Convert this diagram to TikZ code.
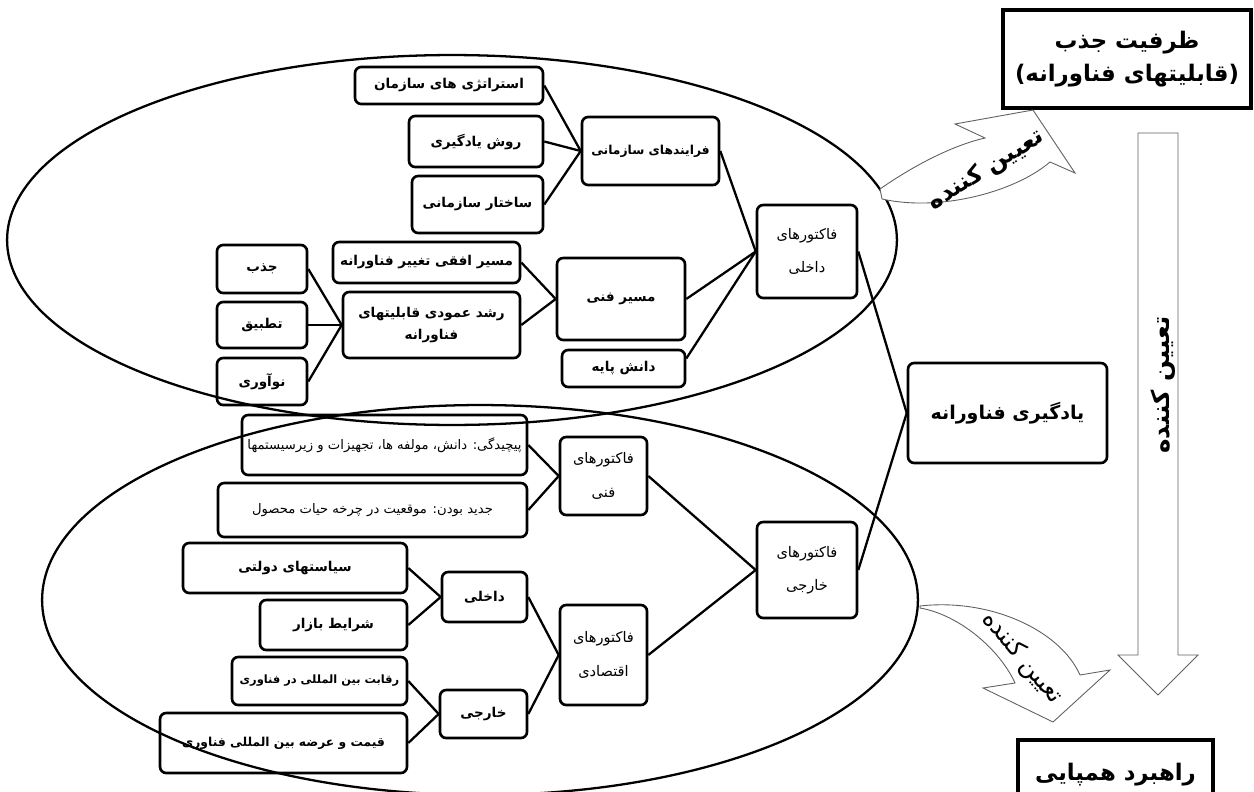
\documentclass[tikz,border=0pt]{standalone}
\usepackage{fontspec}
\TeXXeTstate=1
\newfontfamily\fa[Script=Arabic]{DejaVu Sans}
\newfontfamily\lat{DejaVu Sans}
\newcommand{\RL}[1]{\beginR #1\endR}
\begin{document}
\begin{tikzpicture}[x=0.02cm,y=-0.02cm,
  box/.style={draw, line width=1.5pt, rounded corners=3.5pt, inner sep=0pt, align=center,
    font=\fa\bfseries\fontsize{7.7}{12}\selectfont},
  rbox/.style={box, font=\fa\fontsize{7.5}{12}\selectfont},
  fbox/.style={box, font=\fa\fontsize{8.3}{19}\selectfont},
  link/.style={line width=1.3pt},
  ell/.style={line width=1.3pt},
  blk/.style={draw=gray!75!black, line width=0.5pt, fill=white},
  head/.style={draw, line width=1.8pt, inner sep=0pt, align=center,
    font=\fa\bfseries\fontsize{13}{22}\selectfont}]
\clip (0,0) rectangle (1254,791);
% top group
\node[box, minimum width=3.76cm, minimum height=0.74cm] (strat) at (449,85.5) {\RL{استراتژی های سازمان}};
\node[box, minimum width=2.68cm, minimum height=1.02cm] (ravesh) at (476,141.5) {\RL{روش یادگیری}};
\node[box, minimum width=2.62cm, minimum height=1.14cm] (sakht) at (477.5,204.5) {\RL{ساختار سازمانی}};
\node[box, minimum width=2.74cm, minimum height=1.36cm, font=\fa\bfseries\fontsize{7}{12}\selectfont] (farayand) at (650.5,151) {\RL{فرایندهای سازمانی}};
\node[box, minimum width=3.74cm, minimum height=0.82cm] (ofoghi) at (426.5,262.5) {\RL{مسیر افقی تغییر فناورانه}};
\node[box, minimum width=3.54cm, minimum height=1.32cm] (roshd) at (431.5,325) {\RL{رشد عمودی قابلیتهای}\\\RL{فناورانه}};
\node[box, minimum width=1.8cm, minimum height=0.96cm] (jazb) at (262,269) {\RL{جذب}};
\node[box, minimum width=1.8cm, minimum height=0.92cm] (tatbigh) at (262,325) {\RL{تطبیق}};
\node[box, minimum width=1.8cm, minimum height=0.94cm] (noavari) at (262,381.5) {\RL{نوآوری}};
\node[box, minimum width=2.56cm, minimum height=1.64cm] (masir) at (621,299) {\RL{مسیر فنی}};
\node[box, minimum width=2.46cm, minimum height=0.74cm] (danesh) at (623.5,368.5) {\RL{دانش پایه}};
\node[fbox, minimum width=2.0cm, minimum height=1.86cm] (dakhelif) at (807,251.5) {\RL{فاکتورهای}\\\RL{داخلی}};
% center
\node[box, minimum width=3.98cm, minimum height=2.0cm, font=\fa\bfseries\fontsize{10.8}{12}\selectfont] (yad) at (1007.5,413) {\RL{یادگیری فناورانه}};
% bottom group
\node[rbox, minimum width=5.7cm, minimum height=1.2cm] (pich) at (384.5,445) {\RL{پیچیدگی: دانش، مولفه ها، تجهیزات و زیرسیستمها}};
\node[rbox, minimum width=6.18cm, minimum height=1.08cm] (jadid) at (372.5,510) {\RL{جدید بودن: موقعیت در چرخه حیات محصول}};
\node[fbox, minimum width=1.74cm, minimum height=1.56cm] (fanif) at (603.5,476) {\RL{فاکتورهای}\\\RL{فنی}};
\node[box, minimum width=4.48cm, minimum height=1.0cm] (siasat) at (295,568) {\RL{سیاستهای دولتی}};
\node[box, minimum width=1.7cm, minimum height=1.0cm] (dakheli) at (484.5,597) {\RL{داخلی}};
\node[box, minimum width=2.94cm, minimum height=1.0cm] (sharayet) at (333.5,625) {\RL{شرایط بازار}};
\node[box, minimum width=3.5cm, minimum height=0.96cm, font=\fa\bfseries\fontsize{6.5}{12}\selectfont] (reghabat) at (319.5,681) {\RL{رقابت بین المللی در فناوری}};
\node[box, minimum width=4.94cm, minimum height=1.2cm, font=\fa\bfseries\fontsize{7}{12}\selectfont] (gheymat) at (283.5,743) {\RL{قیمت و عرضه بین المللی فناوری}};
\node[box, minimum width=1.74cm, minimum height=0.96cm] (khareji) at (483.5,714) {\RL{خارجی}};
\node[fbox, minimum width=1.74cm, minimum height=2.0cm] (eghtesadi) at (603.5,655) {\RL{فاکتورهای}\\\RL{اقتصادی}};
\node[fbox, minimum width=2.0cm, minimum height=1.92cm] (kharejif) at (807,570) {\RL{فاکتورهای}\\\RL{خارجی}};
% links
\foreach \s in {strat,ravesh,sakht} \draw[link] (\s.east) -- (farayand.west);
\foreach \s in {ofoghi,roshd} \draw[link] (\s.east) -- (masir.west);
\foreach \s in {jazb,tatbigh,noavari} \draw[link] (\s.east) -- (roshd.west);
\foreach \s in {farayand,masir} \draw[link] (\s.east) -- (dakhelif.west);
\draw[link] ([yshift=0.2cm]danesh.east) -- (dakhelif.west);
\foreach \s in {dakhelif,kharejif} \draw[link] (\s.east) -- (yad.west);
\foreach \s in {pich,jadid} \draw[link] (\s.east) -- (fanif.west);
\foreach \s in {siasat,sharayet} \draw[link] (\s.east) -- (dakheli.west);
\foreach \s in {reghabat,gheymat} \draw[link] (\s.east) -- (khareji.west);
\foreach \s in {dakheli,khareji} \draw[link] (\s.east) -- (eghtesadi.west);
\foreach \s in {fanif,eghtesadi} \draw[link] (\s.east) -- (kharejif.west);
% ellipses
\draw[ell] (452,240) ellipse [x radius=8.9cm, y radius=3.7cm];
\draw[ell] (480,600) ellipse [x radius=8.76cm, y radius=3.9cm];
% right side
\node[head, minimum width=4.96cm, minimum height=1.96cm] (zarf) at (1127,59) {\raisebox{-3pt}{\RL{ظرفیت جذب}}\\{\lat\bfseries(}\RL{قابلیتهای فناورانه}{\lat\bfseries)}};
\node[head, minimum width=3.9cm, minimum height=1.4cm] (rahbord) at (1115.5,775) {\RL{راهبرد همپایی}};
\draw[blk] (1138,133) -- (1178,133) -- (1178,655) -- (1198,655) -- (1158,695) -- (1118,655) -- (1138,655) -- cycle;
\node[rotate=90, font=\fa\bfseries\fontsize{14}{14}\selectfont] (vtext) at (1163,385) {\RL{تعیین کننده}};
\draw[blk] (880,189) .. controls (910,168) and (950,146) .. (985,138) -- (955,124) -- (1033,110) -- (1075,173) -- (1050,162) .. controls (1015,192) and (940,212) .. (882,199) -- cycle;
\node[rotate=32, font=\fa\bfseries\fontsize{13.5}{14}\selectfont] (ttext) at (986,170) {\RL{تعیین کننده}};
\draw[blk] (920,606) .. controls (990,598) and (1060,630) .. (1080,675) -- (1110,670) -- (1053,722) -- (983,688) -- (1015,683) .. controls (1000,650) and (960,615) .. (920,608) -- cycle;
\node[rotate=-50, font=\fa\fontsize{14}{14}\selectfont] (btext) at (1022,658) {\RL{تعیین کننده}};
\end{tikzpicture}
\end{document}
